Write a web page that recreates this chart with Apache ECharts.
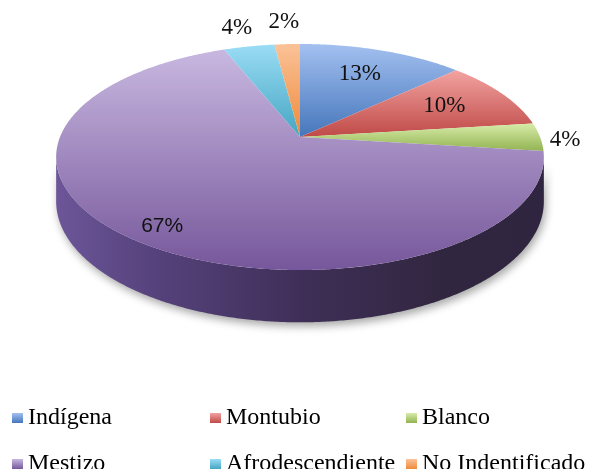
<!DOCTYPE html>
<html>
<head>
<meta charset="utf-8">
<script src="https://cdn.jsdelivr.net/npm/echarts@6/dist/echarts.min.js"></script>
<style>html,body{margin:0;padding:0;background:#fff;}#chart{width:590px;height:469px;}</style>
</head>
<body>
<div id="chart"></div>
<script>
const categories = ['Indígena', 'Montubio', 'Blanco', 'Mestizo', 'Afrodescendiente', 'No Indentificado'];
const values = [13, 10, 4, 67, 4, 2];
const labelTexts = ['13%', '10%', '4%', '67%', '4%', '2%'];

// styling
const topColors = [
  ['#a3c0f0', '#4576bb'],
  ['#f2a3a1', '#bf4a47'],
  ['#d6eca8', '#93b352'],
  ['#c8b8e0', '#76579b'],
  ['#9adcf5', '#45a6c2'],
  ['#fbc298', '#ee8a3a']
];
function vgrad(c) {
  return {type: 'linear', x: 0, y: 0, x2: 0, y2: 1, colorStops: [{offset: 0, color: c[0]}, {offset: 1, color: c[1]}]};
}

// 3D projection parameters
const CX = 300, CY = 137, A = 240, B = 109.5, K = 0.177, D = 43;
const total = values.reduce((s, v) => s + v, 0);
const starts = [];
values.reduce((s, v, i) => { starts[i] = s; return s + v; }, 0);
const tL = Math.acos(-K), tR = 2 * Math.PI - tL;

function proj(t, r) {
  const X = r * Math.sin(t), Z = -r * Math.cos(t);
  const w = 1 - K * Z;
  return [CX + A * X / w, CY + B * Z / w, w];
}
function arc(t1, t2) {
  const n = Math.max(2, Math.ceil(Math.abs(t2 - t1) / 0.008));
  const pts = [];
  for (let j = 0; j <= n; j++) pts.push(proj(t1 + (t2 - t1) * j / n, 1));
  return pts;
}

function renderItem(params, api) {
  const i = params.dataIndex;
  const v = api.value(0);
  const t1 = starts[i] / total * 2 * Math.PI;
  const t2 = (starts[i] + v) / total * 2 * Math.PI;
  const children = [];
  // side
  const lo = Math.max(t1, tL), hi = Math.min(t2, tR);
  if (hi > lo) {
    const topArc = arc(lo, hi);
    const pts = topArc.map(p => [p[0], p[1]]);
    for (let j = topArc.length - 1; j >= 0; j--) {
      const p = topArc[j];
      pts.push([p[0], p[1] + D / p[2]]);
    }
    children.push({
      type: 'polygon', z2: 1,
      shape: {points: pts},
      style: {
        fill: {type: 'linear', x: 0, y: 0, x2: 1, y2: 0, colorStops: [
          {offset: 0, color: '#6c5699'}, {offset: 0.2, color: '#56427c'},
          {offset: 0.5, color: '#3f2f58'}, {offset: 0.8, color: '#31263f'}, {offset: 1, color: '#2f2540'}]},
        shadowBlur: 8, shadowColor: 'rgba(0,0,0,0.35)', shadowOffsetY: 4, shadowOffsetX: 2
      }
    });
  }
  // top face
  const topPts = [[CX, CY]].concat(arc(t1, t2).map(p => [p[0], p[1]]));
  children.push({
    type: 'polygon', z2: 2,
    shape: {points: topPts},
    style: {fill: vgrad(topColors[i])}
  });
  // label
  const frac = v / total;
  const mid = (t1 + t2) / 2;
  let lx, ly;
  if (frac >= 0.06) {
    const p = proj(mid, frac > 0.5 ? 0.86 : 0.7);
    lx = p[0] + (frac > 0.5 ? 6 : 0); ly = p[1] + (frac > 0.5 ? 5 : 0);
  } else {
    const p = proj(mid, 1);
    const dx = p[0] - CX, dy = p[1] - CY, len = Math.hypot(dx, dy);
    lx = p[0] + dx / len * 25; ly = p[1] + dy / len * 25 + 3;
  }
  children.push({
    type: 'text', z2: 3,
    style: {
      text: labelTexts[i], x: lx, y: ly, align: 'center', verticalAlign: 'middle',
      fontFamily: frac > 0.5 ? 'Liberation Sans' : 'Liberation Serif',
      fontSize: frac > 0.5 ? 21 : 23, fill: '#111'
    }
  });
  return {type: 'group', children: children};
}

const chart = echarts.init(document.getElementById('chart'), null, {renderer: 'canvas'});
const legendCommon = {
  orient: 'vertical', icon: 'rect', itemWidth: 11, itemHeight: 10, itemGap: 22,
  top: 406, height: 120, padding: 0, selectedMode: false,
  textStyle: {fontFamily: 'Liberation Serif', fontSize: 24, color: '#000', lineHeight: 20}
};
chart.setOption({
  animation: false,
  backgroundColor: '#fff',
  legend: [
    Object.assign({left: 12, data: [categories[0], categories[3]]}, legendCommon),
    Object.assign({left: 210, data: [categories[1], categories[4]]}, legendCommon),
    Object.assign({left: 406, data: [categories[2], categories[5]]}, legendCommon)
  ],
  series: [
    {
      type: 'pie', radius: [0, 0], center: [-100, -100], silent: true,
      label: {show: false}, labelLine: {show: false},
      data: categories.map((c, i) => ({name: c, value: values[i], itemStyle: {color: vgrad(topColors[i])}}))
    },
    {
      type: 'custom', coordinateSystem: 'none', renderItem: renderItem,
      data: categories.map((c, i) => ({name: c, value: [values[i]]}))
    }
  ]
});
</script>
</body>
</html>
